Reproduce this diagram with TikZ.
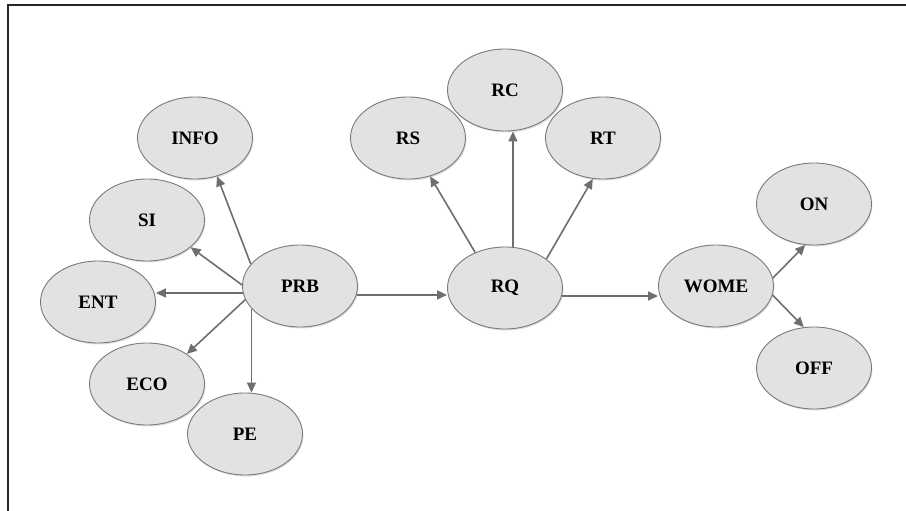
\documentclass[tikz,border=0pt]{standalone}
\usepackage{fontspec}
\setmainfont{Liberation Serif}
\usetikzlibrary{shapes.geometric,arrows.meta,shadows}
\definecolor{nodefill}{HTML}{E2E2E2}
\definecolor{nodeline}{HTML}{7A7A7A}
\definecolor{arrowcol}{HTML}{6E6E6E}
\begin{document}
\begin{tikzpicture}[x=1pt,y=-1pt,
  bubble/.style={ellipse,draw=nodeline,line width=0.9pt,fill=nodefill,
    minimum width=115pt,minimum height=82pt,inner sep=0pt,
    font=\fontsize{19}{21}\selectfont\bfseries,
    drop shadow={opacity=0.25,shadow xshift=1pt,shadow yshift=-1.5pt}},
  arr/.style={draw=arrowcol,line width=1.6pt,
    -{Triangle[length=10pt,width=9pt,fill=arrowcol]}},
  frame/.style={line width=1.4pt,draw=black!85}]
\useasboundingbox (0,0) rectangle (906,511);
\coordinate (ftl) at (8,5);
\coordinate (ftr) at (906,5);
\coordinate (fbl) at (8,511);
\draw[frame] (ftr) -- (ftl) -- (fbl);

\node[bubble] (INFO) at (195,138) {INFO};
\node[bubble] (SI)   at (147,220) {SI};
\node[bubble] (ENT)  at (98,302)  {ENT};
\node[bubble] (PRB)  at (300,286) {PRB};
\node[bubble] (ECO)  at (147,384) {ECO};
\node[bubble] (PE)   at (245,434) {PE};
\node[bubble] (RS)   at (408,138) {RS};
\node[bubble] (RC)   at (505,90)  {RC};
\node[bubble] (RT)   at (603,138) {RT};
\node[bubble] (RQ)   at (505,288) {RQ};
\node[bubble] (WOME) at (716,286) {WOME};
\node[bubble] (ON)   at (814,204) {ON};
\node[bubble] (OFF)  at (814,368) {OFF};

\draw[arr] (PRB.156) -- (INFO.300);
\draw[arr] (PRB.179) -- (SI.328);
\draw[arr] (PRB.187) -- (PRB.187 -| ENT.east);
\draw[arr] (PRB.194) -- (ECO.37);
\draw[arr] (PRB.205) -- (PRB.205 |- PE.north);
\draw[arr] (PRB.-9) -- (PRB.-9 -| RQ.west);
\draw[arr] (RQ.130) -- (RS.300);
\draw[arr] (RQ.79) -- (RQ.79 |- RC.south);
\draw[arr] (RQ.35) -- (RT.256);
\draw[arr] (RQ.-8) -- (RQ.-8 -| WOME.west);
\draw[arr] (WOME.8) -- (ON.258);
\draw[arr] (WOME.-9) -- (OFF.104);
\end{tikzpicture}
\end{document}
